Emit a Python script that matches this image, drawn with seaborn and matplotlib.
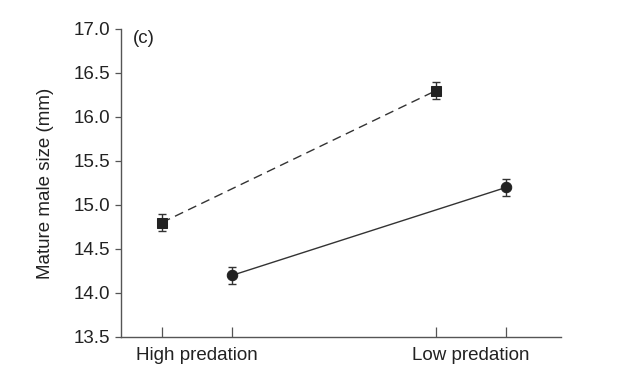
import matplotlib
matplotlib.use("Agg")
import matplotlib.pyplot as plt
import seaborn as sns
import pandas as pd
import numpy as np

# ---- data ----
regimes = ["High predation", "Low predation"]
square_means = [14.8, 16.3]
square_se = [0.1, 0.1]
circle_means = [14.2, 15.2]
circle_se = [0.1, 0.1]
y_ticks = [13.5, 14.0, 14.5, 15.0, 15.5, 16.0, 16.5, 17.0]
y_label = "Mature male size (mm)"
panel_label = "(c)"

sns.set_theme(style="ticks")
plt.rcParams['font.family'] = ['Liberation Sans', 'DejaVu Sans']

offset = 0.128
base = np.arange(len(regimes))
df = pd.concat([
    pd.DataFrame({"x": base - offset, "y": square_means, "se": square_se, "group": "square"}),
    pd.DataFrame({"x": base + offset, "y": circle_means, "se": circle_se, "group": "circle"}),
], ignore_index=True)

fig = plt.figure(figsize=(6.22, 3.74), dpi=100)
ax = fig.add_axes([0.1945, 0.099, 0.902 - 0.1945, 0.9225 - 0.099])

col = "#222222"
fs = 13.5
sns.lineplot(data=df, x="x", y="y", hue="group", style="group",
             markers={"square": "s", "circle": "o"},
             dashes={"square": (6.5, 4), "circle": ""},
             palette={"square": "#333333", "circle": "#333333"},
             markersize=7.5, linewidth=1.0, legend=False, ax=ax,
             markeredgecolor=col, markerfacecolor=col)
for _, r in df.iterrows():
    ax.errorbar(r["x"], r["y"], yerr=r["se"], fmt="none", ecolor="#333333",
                elinewidth=1.0, capsize=3, capthick=1.0, zorder=1)

ax.set_xlim(-0.277, 1.328)
ax.set_ylim(13.5, 17.0)
ax.set_yticks(y_ticks)
ax.set_yticklabels([f"{v:.1f}" for v in y_ticks])
ax.set_xticks(list(np.concatenate([base - offset, base + offset])))
ax.set_xticklabels([])
ax.set_xticks(list(base), minor=True)
ax.set_xticklabels(regimes, minor=True)
ax.tick_params(axis="x", which="major", direction="in", length=7, width=0.9, color="#555555")
ax.tick_params(axis="x", which="minor", length=0, pad=7, labelsize=fs, labelcolor="#222222")
ax.tick_params(axis="y", direction="out", length=4.5, width=0.9, color="#555555", pad=3,
               labelsize=fs, labelcolor="#222222")
ax.set_xlabel("")
ax.set_ylabel(y_label, fontsize=fs, labelpad=14, color="#222222")
for s in ["top", "right"]:
    ax.spines[s].set_visible(False)
for s in ["left", "bottom"]:
    ax.spines[s].set_color("#555555")
    ax.spines[s].set_linewidth(1.0)
ax.text(0.028, 0.998, panel_label, transform=ax.transAxes, fontsize=fs,
        ha="left", va="top", color="#222222")
fig.savefig("out.png", dpi=100)
